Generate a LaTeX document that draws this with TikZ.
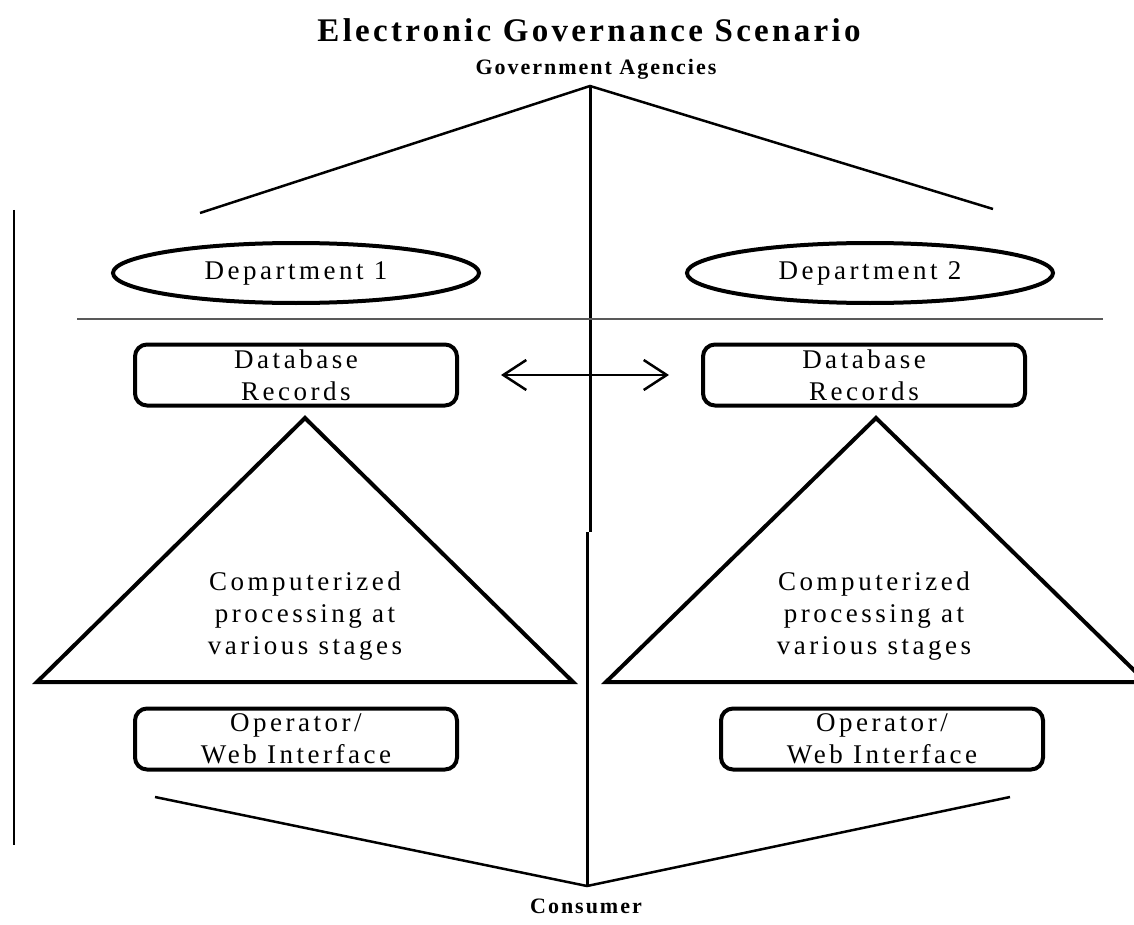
\documentclass[tikz,border=0pt]{standalone}
\usepackage{fontspec}
\setmainfont{Liberation Serif}
\usetikzlibrary{shapes.geometric,arrows.meta}

\begin{document}
\begin{tikzpicture}[x=1pt,y=-1pt,
  body/.style={font=\fontsize{27}{32}\selectfont\addfontfeatures{LetterSpace=13}, align=center, inner sep=0pt},
  heading/.style={font=\fontsize{22}{24}\selectfont\bfseries\addfontfeatures{LetterSpace=9}, inner sep=0pt},
  dept/.style={body, ellipse, draw, line width=4, minimum width=366, minimum height=60},
  recbox/.style={body, draw, rounded corners=12, line width=4, minimum width=322, minimum height=61},
  stage/.style={line width=4, line join=miter},
  link/.style={line width=2.5},
  divider/.style={line width=1.5, draw=black!65},
  trade/.style={line width=2.5, {Straight Barb[length=23,width=30]}-{Straight Barb[length=23,width=30]}}
]
\useasboundingbox (0,0) rectangle (1134,925);

% headings
\node[font=\fontsize{33}{35}\selectfont\bfseries\addfontfeatures{LetterSpace=10}, inner sep=0pt] (title) at (589,30) {Electronic Governance Scenario};
\node[heading] (gov) at (596,69) {Government Agencies};
\node[heading] (cons) at (586,906) {Consumer};

% hierarchy lines
\coordinate (top) at (590,86);
\coordinate (topL) at (200,213);
\coordinate (topR) at (993,209);
\coordinate (midA) at (590,532);
\coordinate (midB) at (587,532);
\coordinate (bot) at (587,886);
\coordinate (botL) at (155,797);
\coordinate (botR) at (1010,797);
\draw[link] (topL) -- (top) -- (topR);
\draw[link] (botL) -- (bot) -- (botR);
\draw[line width=3] (top) -- (midA);
\draw[line width=3] (midB) -- (bot);

% left border and divider
\coordinate (edgeT) at (14,210);
\coordinate (edgeB) at (14,845);
\draw[line width=2] (edgeT) -- (edgeB);
\coordinate (divL) at (77,319);
\coordinate (divR) at (1103,319);
\draw[divider] (divL) -- (divR);

% departments
\node[dept] (d1) at (296,273) {Department 1};
\node[dept] (d2) at (870,273) {Department 2};

% database records
\node[recbox] (db1) at (296,375) {Database\\Records};
\node[recbox] (db2) at (864,375) {Database\\Records};
\draw[trade] ([xshift=42]db1.east) -- ([xshift=-32]db2.west);

% processing triangles
\coordinate (t1a) at (305,418);
\coordinate (t1l) at (37,682);
\coordinate (t1r) at (573,682);
\draw[stage] (t1a) -- (t1l) -- (t1r) -- cycle;
\node[body] (p1) at (305,616) {Computerized\\processing at\\various stages};
\coordinate (t2a) at (876,418);
\coordinate (t2l) at (606,682);
\coordinate (t2r) at (1146,682);
\draw[stage] (t2a) -- (t2l) -- (t2r) -- cycle;
\node[body] (p2) at (874,616) {Computerized\\processing at\\various stages};

% interfaces
\node[recbox] (op1) at (296,739) {Operator/\\Web Interface};
\node[recbox] (op2) at (882,739) {Operator/\\Web Interface};
\end{tikzpicture}
\end{document}
